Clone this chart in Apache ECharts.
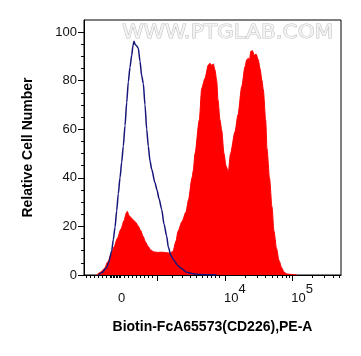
<!DOCTYPE html>
<html>
<head>
<meta charset="utf-8">
<script src="https://cdn.jsdelivr.net/npm/echarts@6/dist/echarts.min.js"></script>
<style>html,body{margin:0;padding:0;background:#fff}#c{width:361px;height:356px}</style>
</head>
<body>
<div id="c"></div>
<script>
// x values are display channels (0..257) of the biexponential PE-A scale
var sampleX = [12.7,16,20,24,27,30,33.3,37,40,42.3,43.3,45,46.7,49,51.7,54,56.7,59,61.7,64,66.7,70,74,78,82,86,89,92,94,98,102,104.5,108,109.3,111,115.3,117.7,121,124.3,126,127.5,129.3,131,132.7,134,136,137.7,140,142,144.3,146.5,151,154,157.7,161,162.7,164.3,165.5,166.7,168.3,170.3,172,174.3,176,178,179.3,181.7,183,185.5,188,190,192.5,195,197.7,200,203,208,213];
var sampleY = [0,1,2.5,5.5,8.5,11.5,15,19,22.4,25.5,26.2,24.5,23.8,22.8,21.7,20.3,18.3,16,13.5,11.8,10.3,9.5,9.3,9.4,9.2,9,9.8,14,18,22,26,31,40,43,50,63.8,76.9,81,86.5,87.2,86.4,86.9,84.4,80,72,63.8,59.6,50,45,42.4,50,59,66,77.5,85.8,88.6,89.3,88.5,92,92.4,90.5,91,88.6,85,80,76.3,63.8,52,40,28,18,11,6,3,1.2,0.4,0.2,0];
var controlX = [14.3,18,22.7,25,27.7,29.3,31,32.7,34.3,36,37.7,39.3,41,42.7,44.3,46,47.7,49,50,51,52.7,54.3,56,57.7,59.3,61,62.7,64.3,66,67.7,71,73,75,77.7,80,82.7,84.3,87,90,93.5,97,102.7,109,116,126,132.7];
var controlY = [0,1,3.1,5.5,10,14.5,19.7,26.5,33.5,40,46.5,53,61.5,71,79.5,85.5,90.5,94.5,96.3,95,94.3,93.4,88,82,78.9,70,60,53,47,43.5,38,35,31.5,27,21,16,11.5,8,6,4,2.8,1.1,0.5,0.2,0.1,0];

var xMajorTicks = [73.3, 141, 208.3];
var xMinorTicks = [2,6,10,14,18,22,26,27.5,29,30.5,32,33.5,35,36.5,40,44,48,52,56,60,64,68,
  88,98,106,112.5,118,123,127.5,131.5,135,
  161.3,173.1,181.5,188,193.4,197.9,201.8,205.2,
  228.6,240.4,248.8,255.3];
var xLabelPos = [37, 141, 208.3];
var xLabelBase = ['0', '10', '10'];
var xLabelExp = ['', '4', '5'];

var yMajorTicks = [0,20,40,60,80,100];
var yMinorTicks = [5,10,15,25,30,35,45,50,55,65,70,75,85,90,95];

function pairs(xs, ys){ return xs.map(function(x,i){ return [x, ys[i]]; }); }

var FONT = '"Liberation Sans", Arial, sans-serif';
var chart = echarts.init(document.getElementById('c'), null, {renderer:'canvas'});
var gridRect = {left:84, top:20, width:257, height:255};
chart.setOption({
  animation:false,
  backgroundColor:'#fff',
  grid:[
    Object.assign({show:true, borderColor:'#000', borderWidth:1, backgroundColor:'transparent'}, gridRect),
    Object.assign({show:false}, gridRect)
  ],
  xAxis:[
    {type:'value', gridIndex:0, min:0, max:257, position:'bottom',
     name:'Biotin-FcA65573(CD226),PE-A', nameLocation:'middle', nameGap:45,
     nameTextStyle:{fontFamily:FONT, fontWeight:'bold', fontSize:14, color:'#000'},
     axisLine:{show:true, lineStyle:{color:'#000', width:1}},
     axisTick:{show:true, length:6, customValues:xMajorTicks, lineStyle:{color:'#000', width:1}},
     splitLine:{show:false},
     axisLabel:{show:true, margin:8, customValues:xLabelPos, color:'#111',
       formatter:function(v){
         var i = -1;
         for (var k=0;k<xLabelPos.length;k++){ if (Math.abs(xLabelPos[k]-v)<0.01) i=k; }
         if (i<0) return '';
         if (!xLabelExp[i]) return '{h| }{a|' + xLabelBase[i] + '}';
         return '{sp| }{a|' + xLabelBase[i] + '}{s|' + xLabelExp[i] + '}';
       },
       rich:{
         a:{fontFamily:FONT, fontSize:13, lineHeight:14, verticalAlign:'bottom', color:'#111'},
         s:{fontFamily:FONT, fontSize:13, lineHeight:14, verticalAlign:'top', color:'#111'},
         sp:{width:19.6, lineHeight:22, fontSize:13},
         h:{width:1, lineHeight:22, fontSize:13}
       }}},
    {type:'value', gridIndex:1, min:0, max:257, position:'bottom',
     axisLine:{show:false}, axisLabel:{show:false}, splitLine:{show:false},
     axisTick:{show:true, length:3, customValues:xMinorTicks, lineStyle:{color:'#000', width:1}}}
  ],
  yAxis:[
    {type:'value', gridIndex:0, min:0, max:105, position:'left',
     name:'Relative Cell Number', nameLocation:'middle', nameGap:49,
     nameTextStyle:{fontFamily:FONT, fontWeight:'bold', fontSize:14, color:'#000'},
     axisLine:{show:true, lineStyle:{color:'#000', width:1}},
     axisTick:{show:true, length:6, customValues:yMajorTicks, lineStyle:{color:'#000', width:1}},
     axisLabel:{show:true, margin:7, customValues:yMajorTicks, fontFamily:FONT, fontSize:13, color:'#111'},
     splitLine:{show:false}},
    {type:'value', gridIndex:1, min:0, max:105, position:'left',
     axisLine:{show:false}, axisLabel:{show:false}, splitLine:{show:false},
     axisTick:{show:true, length:3, customValues:yMinorTicks, lineStyle:{color:'#000', width:1}}}
  ],
  graphic:[
    {type:'text', left:121.7, top:23, z:1, scaleX:1.136, silent:true,
     style:{text:'WWW.PTGLAB.COM', fontFamily:'"DejaVu Sans", sans-serif', fontSize:19,
       fill:'#f3f3f3', stroke:'#c2c2c2', lineWidth:1}}
  ],
  series:[
    {type:'line', name:'sample', xAxisIndex:0, yAxisIndex:0, data:pairs(sampleX, sampleY),
     symbol:'none', smooth:0.25, smoothMonotone:'x', z:2,
     lineStyle:{color:'#ff0000', width:1}, areaStyle:{color:'#ff0000', opacity:1}},
    {type:'line', name:'control', xAxisIndex:0, yAxisIndex:0, data:pairs(controlX, controlY),
     symbol:'none', smooth:0.25, smoothMonotone:'x', z:3,
     lineStyle:{color:'#16167a', width:1.5}}
  ]
});
</script>
</body>
</html>
